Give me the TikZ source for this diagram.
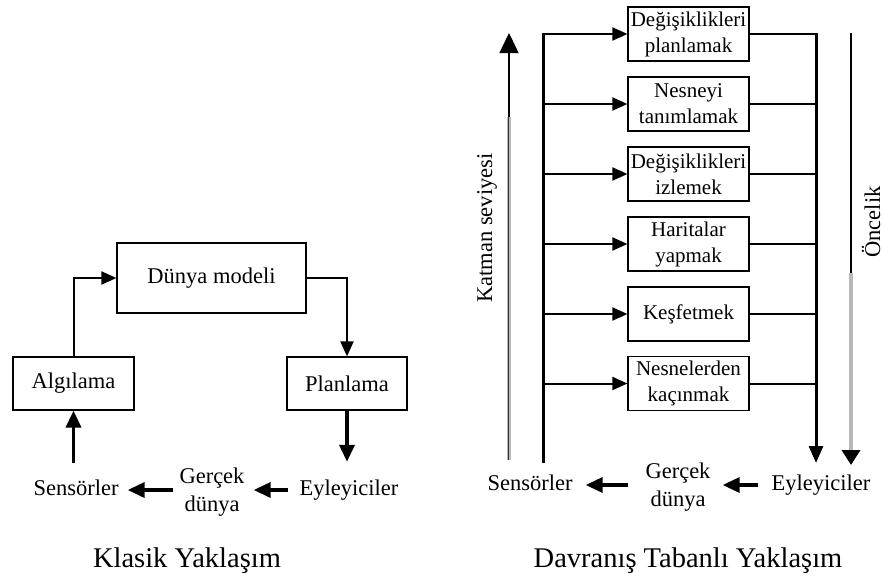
\documentclass[tikz,border=0pt]{standalone}
\usepackage{fontspec}
\setmainfont{Liberation Serif}
\usetikzlibrary{arrows.meta}
\begin{document}
\begin{tikzpicture}[x=1pt,y=-1pt,
  box/.style={draw,line width=1.2pt,rectangle,inner sep=0pt,align=center,font=\fontsize{21}{26}\selectfont},
  bigbox/.style={box,font=\fontsize{22.5}{27}\selectfont},
  lbl/.style={inner sep=0pt,align=center,text height=15pt,text depth=5pt,font=\fontsize{22.5}{28}\selectfont},
  lbltwo/.style={inner sep=0pt,align=center,font=\fontsize{22.5}{28}\selectfont},
  thinarr/.style={line width=2pt,-{Triangle[length=15pt,width=13pt]}},
  thickarr/.style={line width=3.5pt,-{Triangle[length=17pt,width=15pt]}},
  plain/.style={line width=2pt},
  busline/.style={line width=3pt},
  ttl/.style={inner sep=0pt,font=\fontsize{28.5}{33}\selectfont}]
\useasboundingbox (0,0) rectangle (885,579);
% ---------- Klasik
\node[bigbox,minimum width=189pt,minimum height=70pt] (dm) at (211.5,278) {Dünya modeli};
\node[bigbox,minimum width=121pt,minimum height=53pt] (alg) at (73.5,383.5) {Algılama};
\node[bigbox,minimum width=120pt,minimum height=53pt] (plan) at (347,383.5) {Planlama};
\node[lbl] (s1) at (76,490) {Sensörler};
\node[lbltwo] (g1) at (212,492) {Gerçek\\dünya};
\node[lbl] (e1) at (349,490) {Eyleyiciler};
\draw[thinarr] (alg.north -| 74,0) |- (dm.west);
\draw[thinarr] (dm.east) -| (plan.north);
\draw[thickarr,shorten >=18pt] (plan.south) -- (e1.north -| plan.south);
\draw[thickarr,shorten <=17pt] (s1.north -| alg.south) -- (alg.south);
\draw[thickarr,shorten <=6pt,shorten >=9pt] (g1.west |- s1.east) -- (s1.east);
\draw[thickarr,shorten <=11pt,shorten >=9pt] (e1.west) -- (g1.east |- e1.west);
\node[ttl] (t1) at (187,561) {Klasik Yaklaşım};
% ---------- Davranış
\foreach \n/\y/\t in {b1/34/{Değişiklikleri\\planlamak},b2/104/{Nesneyi\\tanımlamak},b3/174/{Değişiklikleri\\izlemek},b4/244/{Haritalar\\yapmak},b5/314/{Keşfetmek},b6/383.5/{Nesnelerden\\kaçınmak}}
  \node[box,minimum width=121pt,minimum height=54pt] (\n) at (688.5,\y) {\t};
\coordinate (Ltop) at (543,33);
\coordinate (Lbot) at (543,463);
\coordinate (Rtop) at (816,33);
\coordinate (Rbot) at (816,463);
\draw[busline] (Lbot) -- (Ltop);
\draw[busline,-{Triangle[length=17pt,width=14pt]}] (Rtop) -- (Rbot);
\foreach \n in {b1,b2,b3,b4,b5,b6}{
  \draw[thinarr] (\n.west -| Ltop) -- (\n.west);
  \draw[plain] (\n.east) -- (\n.east -| Rtop);
}
% grey arrows
\coordinate (GLb) at (509,460);
\coordinate (GLm) at (509,117);
\coordinate (GLt) at (509,33);
\draw[gray!55,line width=4pt] (GLb) -- (GLm);
\draw[gray!40!black,line width=0.6pt] (508,460) -- (508,117);
\draw[black,line width=1.5pt,-{Triangle[length=20pt,width=19pt]}] (GLm) -- (GLt);
\coordinate (GRt) at (851,33);
\coordinate (GRm) at (851,273);
\coordinate (GRb) at (851,465);
\draw[black,line width=1.5pt] (GRt) -- (GRm);
\draw[gray!55,line width=4pt,-{Triangle[length=15pt,width=18pt,color=black]}] (GRm) -- (GRb);
\node[inner sep=0pt,rotate=90,font=\fontsize{22.5}{26}\selectfont] (kat) at (487,228) {Katman seviyesi};
\node[inner sep=0pt,rotate=90,font=\fontsize{22.5}{26}\selectfont] (onc) at (871,222) {Öncelik};
\node[lbl] (s2) at (530,485) {Sensörler};
\node[lbltwo] (g2) at (678,487) {Gerçek\\dünya};
\node[lbl] (e2) at (821,485) {Eyleyiciler};
\draw[thickarr,shorten <=17pt,shorten >=13pt] (g2.west |- s2.east) -- (s2.east);
\draw[thickarr,shorten <=13pt,shorten >=12pt] (e2.west) -- (g2.east |- e2.west);
\node[ttl] (t2) at (688,561) {Davranış Tabanlı Yaklaşım};
\end{tikzpicture}
\end{document}
